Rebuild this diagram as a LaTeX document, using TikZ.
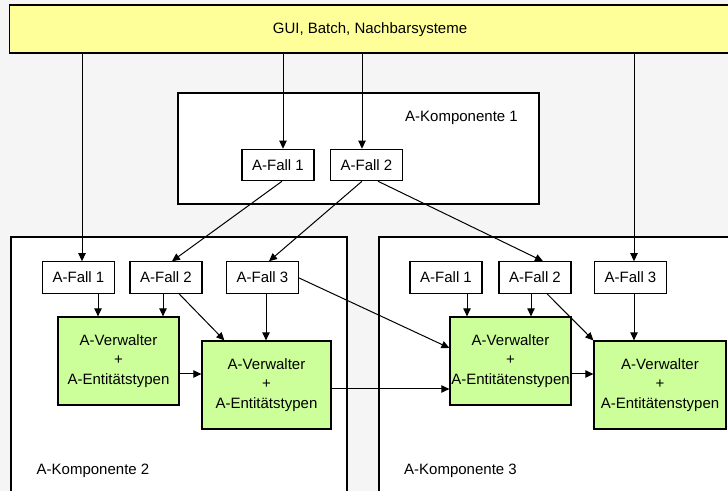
\documentclass[tikz,border=0pt]{standalone}
\usepackage{fontspec}
\setmainfont{Liberation Sans}
\usetikzlibrary{arrows.meta,calc}
\definecolor{bg}{HTML}{F5F5F5}
\definecolor{guiyellow}{HTML}{FFFF99}
\definecolor{mgreen}{HTML}{CCFF99}
\tikzset{
  base/.style={draw=black,line width=0.9pt,inner sep=0pt,font=\fontsize{11.25pt}{14.6pt}\selectfont},
  fall/.style={base,fill=white,minimum width=54pt,minimum height=23.5pt},
  mgr/.style={base,fill=mgreen,align=center,minimum height=66pt},
  comp/.style={draw=black,line width=0.9pt,fill=white},
  lbl/.style={font=\fontsize{11.25pt}{14pt}\selectfont,inner sep=0pt},
  arr/.style={draw=black,line width=0.75pt,-{Triangle[length=6pt,width=5.5pt]}}
}
\begin{document}
\begin{tikzpicture}[x=0.75pt,y=-0.75pt]
\useasboundingbox (0,0) rectangle (728,491);
\fill[bg] (0,0) rectangle (728,491);
\clip (0,0) rectangle (728,491);

% top bar
\node[base,fill=guiyellow,minimum width=550pt,minimum height=36pt] (gui) at (376,29) {};
\node[lbl] (guitext) at (370,30) {GUI, Batch, Nachbarsysteme};

% component boxes
\draw[comp] (178,93) rectangle (539,204);
\draw[comp] (11,237) rectangle (347,500);
\draw[comp] (379,237) rectangle (745,500);
\node[lbl] (k1lbl) at (461.5,118) {A-Komponente 1};
\node[lbl] (k2lbl) at (93,471) {A-Komponente 2};
\node[lbl] (k3lbl) at (460.5,471) {A-Komponente 3};

% A-Komponente 1
\node[fall] (k1f1) at (278,165) {A-Fall 1};
\node[fall] (k1f2) at (366.5,165) {A-Fall 2};

% A-Komponente 2
\node[fall] (k2f1) at (78.5,277.5) {A-Fall 1};
\node[fall] (k2f2) at (166,277.5) {A-Fall 2};
\node[fall] (k2f3) at (262.5,277.5) {A-Fall 3};
\node[mgr,minimum width=90.75pt] (k2g1) at (118.5,361) {A-Verwalter\\+\\A-Entitätstypen};
\node[mgr,minimum width=96.75pt] (k2g2) at (266.5,385) {A-Verwalter\\+\\A-Entitätstypen};

% A-Komponente 3
\node[fall] (k3f1) at (446,277.5) {A-Fall 1};
\node[fall] (k3f2) at (535,277.5) {A-Fall 2};
\node[fall] (k3f3) at (630.5,277.5) {A-Fall 3};
\node[mgr,minimum width=90.75pt] (k3g1) at (510.5,361) {A-Verwalter\\+\\A-Entitätenstypen};
\node[mgr,minimum width=99pt] (k3g2) at (660,385) {A-Verwalter\\+\\A-Entitätenstypen};

% helper coordinates
\coordinate (a1) at ($(k2f1.north)+(3.5,0)$);
\coordinate (a2) at ($(k1f1.north)+(5,0)$);
\coordinate (a3) at ($(k1f2.north)+(-4.5,0)$);
\coordinate (a4) at ($(k3f3.north)+(3.5,0)$);
\coordinate (e1) at ($(k1f1.south)+(4,0)$);
\coordinate (e2) at ($(k2f2.north)+(6,0)$);
\coordinate (f1) at ($(k1f2.south)+(-4.5,0)$);
\coordinate (f2) at ($(k2f3.north)+(6.5,0)$);
\coordinate (g1) at ($(k1f2.south)+(11.5,0)$);
\coordinate (g2) at ($(k3f2.north)+(8,0)$);
\coordinate (h1) at ($(k2f1.south)+(19.5,0)$);
\coordinate (i1) at ($(k2f2.south)+(-3,0)$);
\coordinate (j1) at ($(k2f2.south)+(13,0)$);
\coordinate (j2) at ($(k2g2.north west)+(23,0)$);
\coordinate (k1) at ($(k2f3.south)+(3.5,0)$);
\coordinate (l1) at ($(k2g1.east)+(0,13)$);
\coordinate (m1) at ($(k2g2.east)+(0,4)$);
\coordinate (n1) at ($(k2f3.east)+(0,0.5)$);
\coordinate (n2) at ($(k3g1.west)+(0,-13)$);
\coordinate (o1) at ($(k3f1.south)+(21,0)$);
\coordinate (p1) at ($(k3f2.south)+(-4,0)$);
\coordinate (q1) at ($(k3f2.south)+(12,0)$);
\coordinate (r1) at ($(k3f3.south)+(3.5,0)$);
\coordinate (s1) at ($(k3g1.east)+(0,13)$);

% connectors from the top bar
\draw[arr] (a1 |- gui.south) -- (a1);
\draw[arr] (a2 |- gui.south) -- (a2);
\draw[arr] (a3 |- gui.south) -- (a3);
\draw[arr] (a4 |- gui.south) -- (a4);

% from A-Komponente 1
\draw[arr] (e1) -- (e2);
\draw[arr] (f1) -- (f2);
\draw[arr] (g1) -- (g2);

% inside A-Komponente 2
\draw[arr] (h1) -- (h1 |- k2g1.north);
\draw[arr] (i1) -- (i1 |- k2g1.north);
\draw[arr] (j1) -- (j2);
\draw[arr] (k1) -- (k1 |- k2g2.north);
\draw[arr] (l1) -- (l1 -| k2g2.west);

% across components
\draw[arr] (m1) -- (m1 -| k3g1.west);
\draw[arr] (n1) -- (n2);

% inside A-Komponente 3
\draw[arr] (o1) -- (o1 |- k3g1.north);
\draw[arr] (p1) -- (p1 |- k3g1.north);
\draw[arr] (q1) -- (k3g2.north west);
\draw[arr] (r1) -- (r1 |- k3g2.north);
\draw[arr] (s1) -- (s1 -| k3g2.west);
\end{tikzpicture}
\end{document}
